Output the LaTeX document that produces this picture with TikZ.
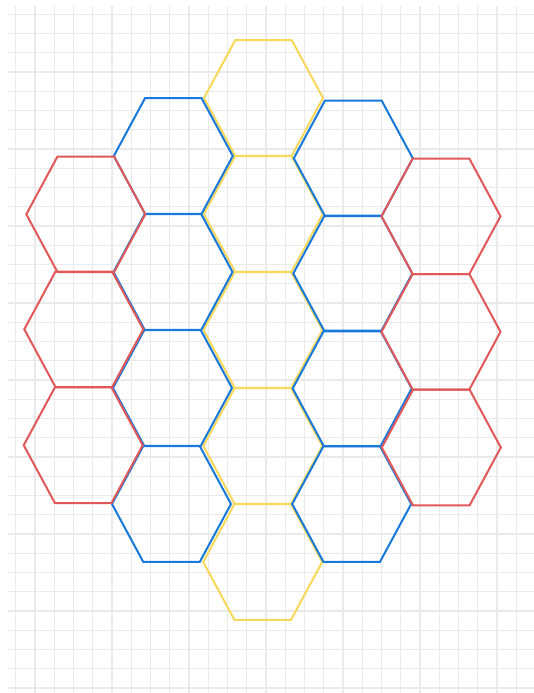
\documentclass[tikz,border=0pt]{standalone}
\usepackage{tikz}

\definecolor{hexred}{RGB}{226,88,88}
\definecolor{hexblue}{RGB}{24,121,219}
\definecolor{hexyellow}{RGB}{248,216,90}
\definecolor{gridgray}{RGB}{234,234,234}
\newcommand{\hexcell}[3]{%
  \draw[cell=#3, shift={(#1,#2)}] (-59.5,0) -- (-28.3,-57.8) -- (28.3,-57.8)
    -- (59.5,0) -- (28.3,57.8) -- (-28.3,57.8) -- cycle;}

\begin{document}
\begin{tikzpicture}[x=1pt, y=-1pt,
    cell/.style={draw=#1, line width=2pt},
    cell/.default=hexblue,
    gridline/.style={gridgray, line width=1.2pt}]
    \useasboundingbox (0,0) rectangle (534,693);
    \fill[white] (0,0) rectangle (534,693);
    % background grid
    \foreach \k in {0,...,26}
      \draw[gridline] ({15.7+19.25*\k},6) -- ({15.7+19.25*\k},693);
    \foreach \k in {0,...,35}
      \draw[gridline] (8,{14.3+19.25*\k}) -- (534,{14.3+19.25*\k});
    % middle column
    \foreach \cx/\cy in {263.5/98, 263.3/214, 263/330, 262.8/446, 262.7/562}
      {\hexcell{\cx}{\cy}{hexyellow}}
    % inner columns
    \foreach \cx/\cy in {173.3/156, 173/272, 172.5/388, 171.5/504,
                         353.3/158.3, 352.8/273.5, 352.2/388.5, 351.7/504}
      {\hexcell{\cx}{\cy}{hexblue}}
    % outer columns
    \foreach \cx/\cy in {85.8/214.3, 83.8/329.3, 83.2/445.2,
                         441/216.3, 441/331.8, 441.3/447.5}
      {\hexcell{\cx}{\cy}{hexred}}
\end{tikzpicture}
\end{document}
